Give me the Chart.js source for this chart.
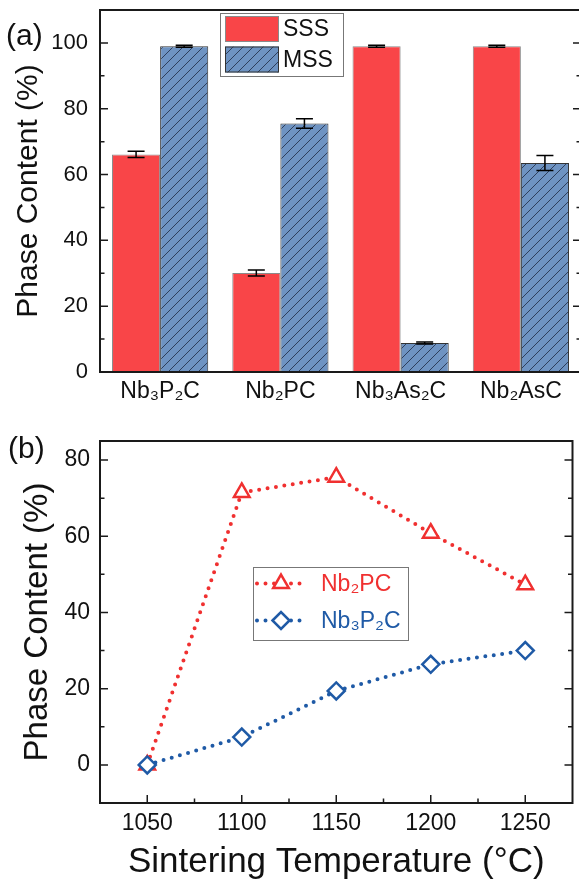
<!DOCTYPE html>
<html>
<head>
<meta charset="utf-8">
<script src="https://cdn.jsdelivr.net/npm/chart.js"></script>
<style>
  html, body { margin: 0; padding: 0; background: #fff; overflow: hidden; width: 579px; height: 880px; }
  canvas { position: absolute; left: 0; }
</style>
</head>
<body>
<canvas id="chartA" width="584" height="410" style="top:0"></canvas>
<canvas id="chartB" width="584" height="460" style="top:420px"></canvas>
<script>
// ---- panel (a) data ----
const phases = ['Nb₃P₂C', 'Nb₂PC', 'Nb₃As₂C', 'Nb₂AsC'];
const sss = [66.1, 30.1, 99.0, 99.0];
const sssErr = [0.95, 0.9, 0.3, 0.3];
const mss = [99.0, 75.5, 8.8, 63.5];
const mssErr = [0.3, 1.45, 0.3, 2.3];

// ---- panel (b) data ----
const temps = [1050, 1100, 1150, 1200, 1250];
const nb2pc = [0, 71.5, 75.5, 60.8, 47.3];
const nb3p2c = [0, 7.3, 19.4, 26.4, 30.0];

const FONT = '"Liberation Sans", Arial, Helvetica, sans-serif';
const RED = '#F03030';
const BLUE = '#1F5AA6';

// diagonal hatch for MSS bars
function hatch(bg, fg) {
    const c = document.createElement('canvas');
    c.width = 10; c.height = 10;
    const g = c.getContext('2d');
    g.fillStyle = bg;
    g.fillRect(0, 0, 10, 10);
    g.strokeStyle = fg;
    g.lineWidth = 1;
    g.beginPath();
    g.moveTo(0, 10); g.lineTo(10, 0);
    g.moveTo(-5, 5); g.lineTo(5, -5);
    g.moveTo(5, 15); g.lineTo(15, 5);
    g.stroke();
    return g.createPattern(c, 'repeat');
}
const mssFill = hatch('#6E93C2', '#2E3F5C');

// box around plot + inward ticks (Origin look)
const framePlugin = {
    id: 'frame',
    afterDraw(chart, args, opts) {
        const {ctx, chartArea: a} = chart;
        ctx.save();
        ctx.strokeStyle = '#1a1a1a';
        ctx.lineWidth = 2;
        ctx.strokeRect(a.left, a.top, a.right - a.left, a.bottom - a.top);
        ctx.lineWidth = 1.5;
        const drawTicks = (scale, vertical) => {
            const vals = scale.ticks.map(t => t.value);
            const minors = [];
            for (let i = 0; i < vals.length - 1; i++) minors.push((vals[i] + vals[i + 1]) / 2);
            const marks = vals.map(v => [v, 8]).concat(minors.map(v => [v, 4.5]));
            ctx.beginPath();
            marks.forEach(([v, len]) => {
                const p = scale.getPixelForValue(v);
                if (vertical) {
                    ctx.moveTo(a.left, p); ctx.lineTo(a.left + len, p);
                    ctx.moveTo(a.right, p); ctx.lineTo(a.right - len, p);
                } else {
                    ctx.moveTo(p, a.bottom); ctx.lineTo(p, a.bottom - len);
                }
            });
            ctx.stroke();
        };
        drawTicks(chart.scales.y, true);
        if (opts.xTicks) drawTicks(chart.scales.x, false);
        // panel letter
        ctx.fillStyle = '#111';
        ctx.font = '30px ' + FONT;
        ctx.textBaseline = 'alphabetic';
        ctx.fillText(opts.letter, opts.lx, opts.ly);
        ctx.restore();
    }
};

// error bars on top of the bars
const errorBarPlugin = {
    id: 'errorBars',
    afterDatasetsDraw(chart) {
        const {ctx} = chart;
        const y = chart.scales.y;
        ctx.save();
        ctx.strokeStyle = '#000';
        ctx.lineWidth = 1.5;
        chart.data.datasets.forEach((ds, i) => {
            const meta = chart.getDatasetMeta(i);
            meta.data.forEach((bar, j) => {
                const v = ds.data[j], e = ds.errors[j];
                const y1 = y.getPixelForValue(v + e), y2 = y.getPixelForValue(v - e);
                ctx.beginPath();
                ctx.moveTo(bar.x, y1); ctx.lineTo(bar.x, y2);
                ctx.moveTo(bar.x - 8.5, y1); ctx.lineTo(bar.x + 8.5, y1);
                ctx.moveTo(bar.x - 8.5, y2); ctx.lineTo(bar.x + 8.5, y2);
                ctx.stroke();
            });
        });
        ctx.restore();
    }
};

// legend box for the bar chart
const barLegendPlugin = {
    id: 'barLegend',
    afterDraw(chart) {
        const {ctx, chartArea: a} = chart;
        const x0 = a.left + 120, y0 = a.top + 3;
        ctx.save();
        ctx.fillStyle = '#fff';
        ctx.fillRect(x0, y0, 123, 63);
        ctx.strokeStyle = '#777';
        ctx.lineWidth = 1;
        ctx.strokeRect(x0 + 0.5, y0 + 0.5, 123, 63);
        chart.data.datasets.forEach((ds, i) => {
            const py = y0 + 3 + i * 30.5;
            ctx.fillStyle = ds.backgroundColor;
            ctx.fillRect(x0 + 5, py, 54, 26);
            ctx.strokeStyle = ds.borderColor;
            ctx.strokeRect(x0 + 5.5, py + 0.5, 53, 25);
            ctx.fillStyle = '#111';
            ctx.font = '23px ' + FONT;
            ctx.textBaseline = 'middle';
            ctx.fillText(ds.label, x0 + 63, py + 14);
        });
        ctx.restore();
    }
};

// legend box for the line chart
const lineLegendPlugin = {
    id: 'lineLegend',
    afterDraw(chart) {
        const {ctx, chartArea: a} = chart;
        const x0 = a.left + 153, y0 = a.top + 126;
        ctx.save();
        ctx.fillStyle = '#fff';
        ctx.fillRect(x0, y0, 155, 73);
        ctx.strokeStyle = '#777';
        ctx.lineWidth = 1;
        ctx.strokeRect(x0 + 0.5, y0 + 0.5, 155, 73);
        const order = [1, 0];
        order.forEach((di, row) => {
            const ds = chart.data.datasets[di];
            const cy = y0 + 16.5 + row * 37;
            ctx.strokeStyle = ds.borderColor;
            ctx.lineWidth = ds.borderWidth;
            ctx.lineCap = 'round';
            ctx.setLineDash(ds.borderDash);
            ctx.beginPath();
            ctx.moveTo(x0 + 4, cy); ctx.lineTo(x0 + 53, cy);
            ctx.stroke();
            ctx.setLineDash([]);
            ctx.fillStyle = '#fff';
            ctx.strokeStyle = ds.borderColor;
            ctx.lineWidth = ds.pointBorderWidth;
            Chart.helpers.drawPoint(ctx, {
                pointStyle: ds.pointStyle, radius: ds.pointRadius,
                borderWidth: ds.pointBorderWidth, rotation: 0
            }, x0 + 28, cy);
            ctx.fillStyle = ds.borderColor;
            ctx.font = '23px ' + FONT;
            ctx.textBaseline = 'middle';
            ctx.fillText(ds.label, x0 + 68, cy + 1);
        });
        ctx.restore();
    }
};

const fitY = (w) => (scale) => { scale.width = w; scale.paddingTop = 0; scale.paddingBottom = 0; };
const fitX = (h) => (scale) => { scale.height = h; scale.paddingLeft = 0; scale.paddingRight = 0; };

// ---- (a) bar chart ----
new Chart(document.getElementById('chartA'), {
    type: 'bar',
    data: {
        labels: phases,
        datasets: [
            {
                label: 'SSS',
                data: sss,
                errors: sssErr,
                backgroundColor: '#F94548',
                borderColor: '#8a8a8a',
                borderWidth: 1
            },
            {
                label: 'MSS',
                data: mss,
                errors: mssErr,
                backgroundColor: mssFill,
                borderColor: '#333',
                borderWidth: 1
            }
        ]
    },
    options: {
        responsive: false,
        animation: false,
        devicePixelRatio: 1,
        barPercentage: 1,
        categoryPercentage: 0.8,
        layout: {padding: {top: 10, right: 3, left: 0, bottom: 0}},
        plugins: {
            legend: {display: false},
            tooltip: {enabled: false},
            frame: {letter: '(a)', lx: 6, ly: 45, xTicks: false}
        },
        scales: {
            x: {
                grid: {display: false, drawTicks: false},
                border: {display: false},
                ticks: {color: '#111', padding: 6, font: {family: FONT, size: 23}},
                afterFit: fitX(38)
            },
            y: {
                min: 0, max: 110,
                grid: {display: false, drawTicks: false},
                border: {display: false},
                ticks: {stepSize: 20, includeBounds: false, color: '#111', padding: 12, font: {family: FONT, size: 22}},
                title: {
                    display: true, text: 'Phase Content (%)', color: '#111',
                    font: {family: FONT, size: 30, lineHeight: 1.2},
                    padding: {top: 11, bottom: 0}
                },
                afterFit: fitY(100)
            }
        }
    },
    plugins: [errorBarPlugin, framePlugin, barLegendPlugin]
});

// ---- (b) line chart ----
const lineStyle = {
    borderWidth: 4,
    borderDash: [0, 8.5],
    borderCapStyle: 'round',
    tension: 0,
    pointRadius: 9,
    pointBorderWidth: 2.5,
    pointBackgroundColor: '#fff',
    fill: false
};

new Chart(document.getElementById('chartB'), {
    type: 'line',
    data: {
        datasets: [
            Object.assign({
                label: 'Nb₃P₂C',
                data: temps.map((t, i) => ({x: t, y: nb3p2c[i]})),
                borderColor: BLUE,
                pointBorderColor: BLUE,
                pointStyle: 'rectRot'
            }, lineStyle, {pointRadius: 8.5}),
            Object.assign({
                label: 'Nb₂PC',
                data: temps.map((t, i) => ({x: t, y: nb2pc[i]})),
                borderColor: RED,
                pointBorderColor: RED,
                pointStyle: 'triangle'
            }, lineStyle)
        ]
    },
    options: {
        responsive: false,
        animation: false,
        devicePixelRatio: 1,
        layout: {padding: {top: 21, right: 3, left: 0, bottom: 0}},
        plugins: {
            legend: {display: false},
            tooltip: {enabled: false},
            frame: {letter: '(b)', lx: 8, ly: 38, xTicks: true}
        },
        scales: {
            x: {
                type: 'linear',
                min: 1025, max: 1275,
                grid: {display: false, drawTicks: false},
                border: {display: false},
                afterBuildTicks: (axis) => { axis.ticks = temps.map(v => ({value: v})); },
                ticks: {
                    color: '#111', padding: 7, font: {family: FONT, size: 23},
                    callback: (v) => String(v)
                },
                title: {
                    display: true, text: 'Sintering Temperature (°C)', color: '#111',
                    font: {family: FONT, size: 35, lineHeight: 1},
                    padding: {top: 0, bottom: 0}
                },
                afterFit: fitX(77)
            },
            y: {
                min: -10, max: 85,
                grid: {display: false, drawTicks: false},
                border: {display: false},
                ticks: {stepSize: 20, includeBounds: false, color: '#111', padding: 10, font: {family: FONT, size: 23}},
                title: {
                    display: true, text: 'Phase Content (%)', color: '#111',
                    font: {family: FONT, size: 33, lineHeight: 1.2},
                    padding: {top: 18, bottom: 0}
                },
                afterFit: fitY(100)
            }
        }
    },
    plugins: [framePlugin, lineLegendPlugin]
});
</script>
</body>
</html>
